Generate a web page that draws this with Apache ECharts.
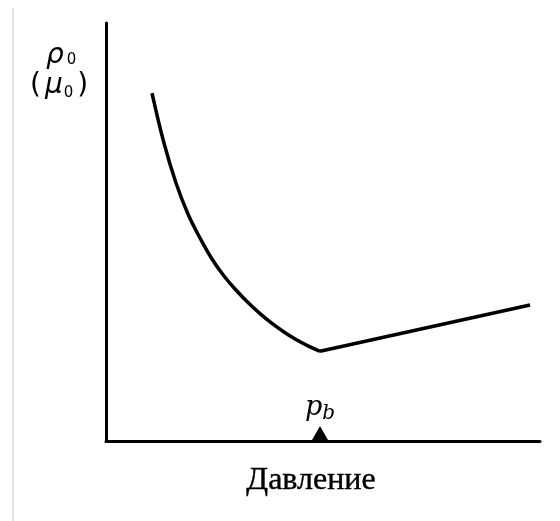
<!DOCTYPE html>
<html>
<head>
<meta charset="utf-8">
<script src="https://cdn.jsdelivr.net/npm/echarts@6/dist/echarts.min.js"></script>
<style>
  html, body { margin: 0; padding: 0; background: #fff; }
  #chart { width: 560px; height: 521px; }
</style>
</head>
<body>
<div id="chart"></div>
<script>
// Resistivity (mobility) vs pressure: falling curve down to p_b, then a linear rise.
const curveX = [10.60, 13.36, 16.13, 18.89, 21.66, 24.42, 27.19, 29.95, 32.72, 35.48, 38.25, 41.01, 43.78, 46.54, 49.31];
const curveY = [83.25, 71.29, 61.72, 54.31, 48.56, 43.54, 39.47, 36.12, 33.11, 30.48, 28.13, 26.08, 24.28, 22.75, 21.46];
const lineX = [49.31, 97.70];
const lineY = [21.46, 32.54];
const pb = 49.31;
const xTitle = 'Давление';

const SERIF = 'Liberation Serif';
const ISERIF = 'DejaVu Serif';
const SANS = 'DejaVu Sans';

const chart = echarts.init(document.getElementById('chart'), null, { renderer: 'canvas' });

const curveData = curveX.map((x, i) => [x, curveY[i]]);
const lineData = lineX.map((x, i) => [x, lineY[i]]);

chart.setOption({
  animation: false,
  backgroundColor: '#ffffff',
  grid: { left: 106, right: 20, top: 23, bottom: 80, containLabel: false },
  xAxis: {
    type: 'value', min: 0, max: 100,
    axisLine: { show: true, lineStyle: { color: '#000', width: 3 } },
    axisTick: { show: false }, axisLabel: { show: false }, splitLine: { show: false },
    name: xTitle, nameLocation: 'middle', nameGap: 24,
    nameTextStyle: { fontFamily: SERIF, fontSize: 32, color: '#000', verticalAlign: 'top',
      padding: [0, 24, 0, 0], textBorderColor: '#000', textBorderWidth: 0.4 }
  },
  yAxis: {
    type: 'value', min: 0, max: 100,
    axisLine: { show: true, lineStyle: { color: '#000', width: 3 } },
    axisTick: { show: false }, axisLabel: { show: false }, splitLine: { show: false }
  },
  series: [
    {
      type: 'line', data: curveData, smooth: 0.4, showSymbol: false,
      lineStyle: { color: '#000', width: 3.5 }
    },
    {
      type: 'line', data: lineData, showSymbol: false,
      lineStyle: { color: '#000', width: 3.5 }
    },
    {
      type: 'scatter', data: [[pb, 0]],
      symbol: 'triangle', symbolSize: [16, 14], symbolOffset: [0, -8],
      itemStyle: { color: '#000', opacity: 1 },
      label: {
        show: true, position: 'top', distance: 2,
        formatter: '{p|p}{b|b}',
        rich: {
          p: { fontFamily: ISERIF, fontStyle: 'italic', fontSize: 27, color: '#000' },
          b: { fontFamily: ISERIF, fontStyle: 'italic', fontSize: 20, color: '#000', padding: [12, 0, 0, 0] }
        }
      }
    }
  ],
  graphic: [
    { type: 'line', shape: { x1: 13, y1: 8, x2: 13, y2: 521 }, style: { stroke: '#e2e2e2', lineWidth: 2 } },
    {
      type: 'text', left: 46, top: 42,
      style: {
        text: '{r|ρ}{s|0}',
        rich: {
          r: { fontFamily: SANS, fontStyle: 'italic', fontSize: 28, fill: '#000' },
          s: { fontFamily: SANS, fontSize: 15, fill: '#000', padding: [8, 0, 0, 3] }
        }
      }
    },
    {
      type: 'text', left: 30, top: 72,
      style: {
        text: '{r|(}{m|μ}{s|0}{r|)}',
        rich: {
          r: { fontFamily: SANS, fontSize: 28, fill: '#000' },
          m: { fontFamily: SANS, fontStyle: 'italic', fontSize: 28, fill: '#000', padding: [0, 0, 0, 4] },
          s: { fontFamily: SANS, fontSize: 15, fill: '#000', padding: [14, 4, 0, 1] }
        }
      }
    }
  ]
});
</script>
</body>
</html>
